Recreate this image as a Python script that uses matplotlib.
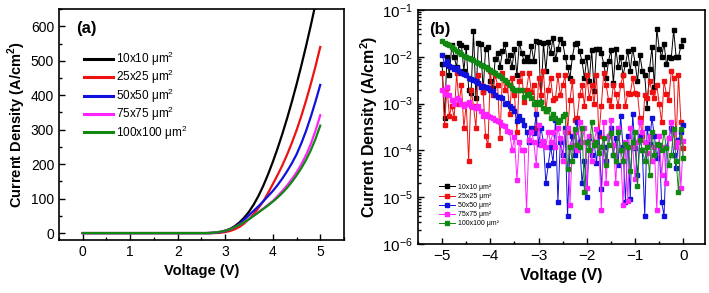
import numpy as np
import matplotlib
matplotlib.use("Agg")
import matplotlib.pyplot as plt
from matplotlib.ticker import MultipleLocator, LogLocator, NullFormatter

plt.rcParams['font.family'] = ['Liberation Sans', 'DejaVu Sans']
plt.rcParams['mathtext.fontset'] = 'custom'
plt.rcParams['mathtext.rm'] = 'Liberation Sans'
plt.rcParams['mathtext.bf'] = 'Liberation Sans:bold'

labels = ["10x10 μm$^2$", "25x25 μm$^2$", "50x50 μm$^2$", "75x75 μm$^2$", "100x100 μm$^2$"]
labels_small = ["10x10 μm²", "25x25 μm²", "50x50 μm²", "75x75 μm²", "100x100 μm²"]
colors = ["#000000", "#ee1111", "#1111dd", "#ff22ff", "#118811"]

# ---- panel (a): forward J-V ----
v_fwd = [0, 1, 2, 2.5, 2.6, 2.7, 2.8, 2.9, 3.0, 3.1, 3.2, 3.3, 3.4, 3.5, 3.6, 3.7, 3.8,
         3.9, 4.0, 4.1, 4.2, 4.3, 4.4, 4.5, 4.6, 4.7, 4.8, 4.9, 5.0]
j_10 = [0, 0, 0, 0, 0, 0, 1, 3, 7, 12, 20, 31, 45, 62, 83, 108, 137, 170, 206, 245, 287,
        332, 380, 431, 485, 542, 602, 665, 730]
j_25 = [0, 0, 0, 0, 0, 0, 0, 1, 3, 6, 11, 18, 28, 41, 56, 73, 92, 116, 142, 168, 196,
        227, 261, 298, 339, 384, 432, 484, 540]
j_50 = [0, 0, 0, 0, 0, 0, 1, 3, 6, 11, 18, 27, 39, 52, 65, 78, 92, 107, 122, 139, 158,
        179, 202, 228, 260, 296, 337, 382, 430]
j_75 = [0, 0, 0, 0, 0, 1, 2, 4, 7, 11, 17, 24, 32, 41, 51, 61, 71, 82, 93, 107, 122,
        138, 156, 176, 199, 226, 258, 297, 342]
j_100 = [0, 0, 0, 0, 0, 1, 2, 4, 7, 11, 17, 24, 32, 40, 50, 60, 70, 80, 91, 103, 116,
         131, 148, 167, 188, 212, 240, 273, 312]

# ---- panel (b): reverse J-V (log) ----
v_rev = [round(-5 + 0.05 * i, 2) for i in range(101)]
r_10 = [7e-3, 5e-4, 1e-2, 4e-3, 1.8e-2, 1.0e-2, 6e-3, 2e-2, 1.8e-2, 5e-3,
        1.6e-2, 2.0e-3, 1.7e-3, 3.5e-2, 1.3e-3, 2.0e-2, 1.9e-2, 1.8e-3, 1.5e-2, 1.6e-2,
        3e-3, 2.2e-3, 9e-3, 1.2e-2, 6e-3, 1.3e-2, 1.9e-2, 8e-3, 1.1e-2, 6e-3,
        1.5e-2, 4e-3, 2.0e-2, 1.2e-2, 8e-3, 1.0e-2, 8e-3, 1.7e-2, 8e-3, 2.2e-2,
        2.1e-2, 1.1e-3, 2.0e-2, 5e-3, 2.1e-2, 1.2e-2, 2.5e-2, 9e-3, 1.5e-2, 2.4e-2,
        2.0e-2, 1.0e-2, 6e-3, 3.5e-3, 1.0e-2, 1.9e-2, 2.0e-2, 1.3e-2, 8e-3, 3.5e-3,
        1.0e-2, 3.0e-3, 1.4e-2, 1.9e-3, 1.5e-2, 1.5e-2, 1.2e-2, 7e-3, 3.5e-3, 8e-3,
        1.4e-2, 2.7e-3, 1.5e-2, 6e-3, 1.0e-2, 4e-3, 7e-3, 1.3e-2, 5e-3, 1.5e-2,
        7.5e-3, 3e-3, 1.1e-2, 5e-3, 4e-3, 8e-4, 5.5e-3, 1.6e-2, 2.3e-3, 4e-2,
        1.5e-2, 1.0e-2, 1.9e-2, 7e-3, 1.0e-2, 9.5e-3, 3.7e-2, 1.0e-2, 1.0e-2, 1.7e-2,
        2.3e-2]
r_25 = [4.5e-3, 3.5e-4, 2.2e-3, 5.5e-4, 9e-4, 5e-4, 4.5e-3, 1.0e-3, 2.5e-3, 3e-4,
        1.0e-3, 6e-5, 2.0e-3, 9e-4, 3e-4, 4e-3, 2.5e-3, 1.8e-3, 2e-4, 1.3e-4,
        5e-3, 1.5e-3, 4e-3, 2.5e-3, 1.8e-4, 4.5e-3, 2e-3, 2.8e-3, 6e-4, 3.5e-3,
        1.5e-3, 2.5e-4, 3e-3, 4.5e-3, 1.1e-3, 2e-3, 4.5e-3, 1.8e-3, 2.5e-3, 3e-4,
        3.5e-3, 1.5e-3, 5e-3, 7e-4, 2e-3, 3.5e-3, 1.2e-3, 1.3e-3, 4e-3, 1.5e-3,
        2.5e-3, 4e-3, 2.5e-4, 1.2e-3, 3e-3, 4.5e-4, 5e-4, 1.5e-3, 2.5e-3, 9e-4,
        4e-3, 1.3e-3, 2.5e-3, 1e-3, 4e-3, 2e-4, 9e-4, 4.5e-3, 2.5e-3, 1.2e-3,
        9e-4, 2.5e-3, 1.6e-3, 9e-4, 2.5e-3, 4e-3, 9e-4, 1.7e-3, 1.6e-3, 3.5e-3,
        1.7e-3, 1.6e-3, 5e-4, 2e-4, 1.5e-3, 1.3e-3, 3e-3, 1.8e-3, 1.3e-3, 2.5e-3,
        1e-3, 4e-4, 3e-3, 1.6e-3, 1.2e-3, 5e-3, 3.5e-3, 1.5e-4, 4e-3, 4e-4,
        1.1e-4]
r_50 = [1.1e-2, 7e-3, 8e-3, 6.5e-3, 6e-3, 5.5e-3, 5.8e-3, 5e-3, 4.6e-3, 4.2e-3,
        4.0e-3, 3.6e-3, 3.4e-3, 3.2e-3, 3.1e-3, 2.8e-3, 2.3e-3, 2.4e-3, 2.3e-3, 2.2e-3,
        2.0e-3, 1.9e-3, 1.5e-3, 1.4e-3, 1.4e-3, 1.3e-3, 1.0e-3, 1.05e-3, 9e-4, 8e-4,
        7e-4, 4.3e-4, 5.5e-4, 4.5e-4, 3.5e-4, 2.5e-4, 1.5e-4, 3e-4, 2.3e-4, 6e-4,
        1.4e-4, 3e-4, 1.5e-4, 2e-5, 5e-5, 1.2e-4, 5.5e-5, 4.5e-4, 8e-6, 1.5e-4,
        8e-5, 3e-4, 4e-6, 1.2e-4, 2e-4, 8e-5, 4e-4, 1.5e-4, 2e-5, 6e-5,
        1e-5, 1.8e-4, 8e-5, 1.5e-4, 5.5e-5, 2.5e-4, 1.5e-5, 1.2e-4, 6e-5, 2e-4,
        3e-4, 8e-5, 1.8e-4, 5e-5, 5.5e-4, 1.2e-4, 8e-6, 2e-4, 9e-6, 6e-4,
        1.1e-4, 3e-5, 2e-4, 1e-4, 4e-6, 3e-4, 1.4e-4, 5e-4, 2e-4, 7e-5,
        1.3e-4, 8e-6, 4e-6, 1.2e-4, 1.8e-4, 3e-4, 8e-5, 4.3e-5, 1.7e-4, 2.5e-4,
        3.5e-4]
r_75 = [2e-3, 1.6e-3, 2.3e-3, 1.5e-3, 1.2e-3, 1.0e-3, 1.3e-3, 1.2e-3, 1.0e-3, 9e-4,
        1.0e-3, 1.1e-3, 9e-4, 8.5e-4, 8e-4, 9e-4, 7e-4, 5.5e-4, 6e-4, 5.5e-4,
        5.2e-4, 5e-4, 4.5e-4, 4.2e-4, 4.0e-4, 3.5e-4, 3.3e-4, 2.6e-4, 2.5e-4, 1.0e-4,
        1.9e-4, 2.3e-5, 1.5e-4, 1e-4, 1.0e-4, 5.3e-6, 1.7e-4, 2.5e-4, 1.5e-4, 5e-5,
        3.5e-4, 1.3e-4, 1.6e-4, 1.2e-4, 2.5e-4, 1.5e-4, 2.5e-4, 1.2e-4, 3e-4, 1.8e-4,
        6e-5, 2.5e-4, 3e-4, 7e-6, 1.3e-4, 2.5e-4, 1e-4, 4e-4, 1.5e-4, 3e-4,
        1.6e-5, 2e-4, 6e-5, 1.5e-4, 2.8e-4, 1.2e-4, 5.3e-6, 4e-4, 2e-5, 2e-4,
        4.5e-4, 1.3e-4, 2e-5, 3e-4, 1e-4, 7e-6, 1.5e-4, 8.5e-6, 3e-4, 1.2e-4,
        2.5e-5, 1.5e-4, 4e-4, 2.5e-4, 1.5e-4, 9e-5, 2e-4, 6e-5, 1.2e-4, 5.3e-6,
        2e-4, 3e-5, 1.2e-4, 2e-5, 1.8e-4, 4e-4, 2.5e-4, 1.2e-4, 1.5e-4, 1.6e-5,
        1.6e-4]
r_100 = [2.2e-2, 2.0e-2, 1.9e-2, 1.75e-2, 1.6e-2, 1.45e-2, 1.35e-2, 1.25e-2, 1.15e-2, 1.05e-2,
         1.0e-2, 9.5e-3, 9e-3, 8.5e-3, 7.8e-3, 7.2e-3, 6.8e-3, 6.5e-3, 6e-3, 5.5e-3,
         5.2e-3, 4.8e-3, 4.5e-3, 4.1e-3, 3.8e-3, 3.5e-3, 3.2e-3, 2.9e-3, 2.5e-3, 2.2e-3,
         2.0e-3, 2.0e-3, 2.0e-3, 2.0e-3, 1.4e-3, 1.5e-3, 1.6e-3, 1.3e-3, 1.0e-3, 1.1e-3,
         1.0e-3, 1.1e-3, 8e-4, 7e-4, 7.5e-4, 5e-4, 6e-4, 5e-4, 4e-4, 4.5e-4,
         5.5e-4, 6e-4, 4e-5, 1.2e-4, 6e-5, 2.8e-4, 1.3e-4, 1.2e-4, 3e-4, 1.3e-5,
         1.5e-4, 1e-4, 4e-4, 1.3e-4, 1.5e-4, 9e-5, 1.2e-4, 1.8e-4, 5e-5, 1.3e-4,
         2.3e-4, 8e-5, 6e-5, 2.5e-4, 1e-4, 6e-5, 1.4e-4, 1.2e-4, 3.7e-5, 1.5e-4,
         2.5e-4, 1.7e-5, 1.7e-4, 1e-4, 6e-5, 1.2e-4, 3e-5, 2.5e-4, 8e-5, 1.4e-4,
         1.3e-4, 1e-4, 2.5e-4, 1.1e-4, 5e-5, 8e-5, 2.8e-4, 6e-5, 1.3e-5, 2.8e-4,
         7e-5]

fig = plt.figure(figsize=(7.09, 2.93), dpi=100)
ax1 = fig.add_axes([0.0832, 0.181, 0.4020, 0.788])
ax2 = fig.add_axes([0.5896, 0.167, 0.4048, 0.799])

for y, c, lab in zip([j_10, j_25, j_50, j_75, j_100], colors, labels):
    ax1.plot(v_fwd, y, color=c, lw=1.6, label=lab)
ax1.set_xlim(-0.5, 5.5)
ax1.set_ylim(-20, 650)
ax1.xaxis.set_major_locator(MultipleLocator(1))
ax1.xaxis.set_minor_locator(MultipleLocator(0.5))
ax1.yaxis.set_major_locator(MultipleLocator(100))
ax1.yaxis.set_minor_locator(MultipleLocator(50))
ax1.set_xlabel("Voltage (V)", fontsize=10.5, fontweight='bold')
ax1.set_ylabel("Current Density (A/cm$^\\mathbf{2}$)", fontsize=10.5, fontweight='bold', labelpad=2)
ax1.text(0.06, 0.95, "(a)", transform=ax1.transAxes, fontsize=12, fontweight='bold', va='top')
leg1 = ax1.legend(loc='upper left', bbox_to_anchor=(0.07, 0.845), frameon=False, fontsize=8.5,
                  handlelength=2.5, handletextpad=0.25, labelspacing=0.02, borderaxespad=0)
for ln in leg1.get_lines():
    ln.set_linewidth(2.2)

for y, c, lab in zip([r_10, r_25, r_50, r_75, r_100], colors, labels_small):
    ax2.plot(v_rev, y, color=c, lw=0.7, marker='s', ms=3.5, mec=c, mfc=c, label=lab)
ax2.set_yscale('log')
ax2.set_xlim(-5.5, 0.45)
ax2.set_ylim(1e-6, 1e-1)
ax2.xaxis.set_major_locator(MultipleLocator(1))
ax2.xaxis.set_minor_locator(MultipleLocator(0.5))
ax2.yaxis.set_major_locator(LogLocator(base=10, numticks=10))
ax2.yaxis.set_minor_locator(LogLocator(base=10, subs=np.arange(2, 10), numticks=20))
ax2.yaxis.set_minor_formatter(NullFormatter())
ax2.set_xlabel("Voltage (V)", fontsize=11.5, fontweight='bold')
ax2.set_ylabel("Current Density (A/cm$^\\mathbf{2}$)", fontsize=11.5, fontweight='bold', labelpad=2)
ax2.text(0.04, 0.95, "(b)", transform=ax2.transAxes, fontsize=12, fontweight='bold', va='top')
leg2 = ax2.legend(loc='lower left', bbox_to_anchor=(0.065, 0.06), frameon=False, fontsize=5,
                  handlelength=2.3, handletextpad=0.4, labelspacing=0.3, borderaxespad=0,
                  markerscale=0.9)

for ax in (ax1, ax2):
    ax.tick_params(which='both', direction='in', width=1)
    ax.tick_params(which='major', length=4, labelsize=10)
    ax.tick_params(which='minor', length=2.5)
    for s in ax.spines.values():
        s.set_linewidth(1.2)
ax2.tick_params(which='major', labelsize=11)

fig.savefig("out.png", dpi=100)
